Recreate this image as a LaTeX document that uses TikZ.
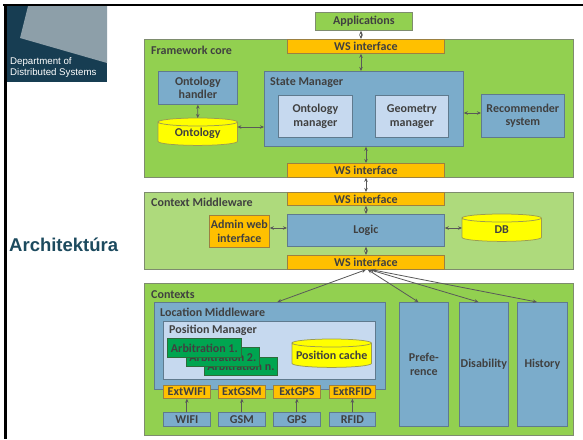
\documentclass[tikz,border=0pt]{standalone}
\usepackage{fontspec}
\setmainfont{Carlito}
\newfontfamily\arialfont{Liberation Sans}
\usetikzlibrary{arrows.meta,calc}
\definecolor{grn}{HTML}{92D050}
\definecolor{lgrn}{HTML}{AEDA7C}
\definecolor{blu}{HTML}{7BACCB}
\definecolor{lblu}{HTML}{C6D9EF}
\definecolor{org}{HTML}{FFC000}
\definecolor{ylw}{HTML}{FFFF00}
\definecolor{agrn}{HTML}{00A550}
\definecolor{txt}{HTML}{404040}
\definecolor{arr}{HTML}{595959}
\definecolor{navy}{HTML}{173D52}
\definecolor{slate}{HTML}{8D9FA9}
\definecolor{archc}{HTML}{1C4A5E}
\definecolor{gbord}{HTML}{7E8C6E}
\definecolor{bbord}{HTML}{5F7A8E}
\definecolor{obord}{HTML}{9C8040}
\definecolor{ybord}{HTML}{9C9C50}
\definecolor{abord}{HTML}{2E6B3A}
\newcommand\drawcyl[1]{%
  \path[draw=ybord, fill=ylw, line width=0.75pt]
    let \p1=(#1.north west), \p2=(#1.south east), \n1={(\x2-\x1)/2} in
    (\x1,\y1-4pt) -- (\x1,\y2+4pt)
      arc[start angle=180, end angle=360, x radius=\n1, y radius=4pt]
      -- (\x2,\y1-4pt)
      arc[start angle=0, end angle=180, x radius=\n1, y radius=4pt] -- cycle
    (\x1+\n1,\y1-4pt) ellipse[x radius=\n1, y radius=4pt];}
\tikzset{
  bx/.style={draw, anchor=north west, inner sep=0pt, align=center, text=txt,
    font=\bfseries\fontsize{12}{13.7}\selectfont, line width=0.75pt},
  gbox/.style={bx, fill=grn, draw=gbord},
  lgbox/.style={bx, fill=lgrn, draw=gbord},
  bbox/.style={bx, fill=blu, draw=bbord},
  lbbox/.style={bx, fill=lblu, draw=bbord},
  obox/.style={bx, fill=org, draw=obord},
  abox/.style={bx, fill=agrn, draw=abord},
  cylnode/.style={anchor=north west, inner sep=0pt},
  ctext/.style={text=txt, font=\bfseries\fontsize{12}{13.7}\selectfont, inner sep=0pt},
  lbl/.style={text=txt, font=\bfseries\fontsize{12}{13.7}\selectfont, inner sep=0pt, anchor=base west},
  dbl/.style={{Stealth[length=4pt,width=3.5pt]}-{Stealth[length=4pt,width=3.5pt]}, draw=arr, line width=0.8pt},
  sgl/.style={-{Stealth[length=4pt,width=3.5pt]}, draw=arr, line width=0.8pt},
}
\begin{document}
\begin{tikzpicture}[x=1pt,y=-1pt]
\useasboundingbox (0,0) rectangle (583,439);
\fill[white] (0,0) rectangle (583,439);
% logo
\fill[navy] (5,5) rectangle (107,82);
\fill[slate] (28,6) -- (107,6) -- (107,63) -- (20,38) -- cycle;
\node[anchor=west, inner sep=0pt, text=white, align=left,
  font=\arialfont\fontsize{9.7}{11}\selectfont] (dept) at (10,67.5)
  {Department of\\Distributed Systems};
\draw[black, line width=2pt] (3,5) -- (583,5);
\draw[black, line width=2.5pt] (5.3,5) -- (5.3,439);
\node[anchor=base west, inner sep=0pt, text=archc,
  font=\arialfont\bfseries\fontsize{18.5}{20}\selectfont] (arch) at (9,251.3) {Architektúra};
% coordinates for arrow columns
\coordinate (ax1) at (361,0);
\coordinate (ax2) at (366,0);
% Applications
\node[gbox, minimum width=97pt, minimum height=18pt] (app) at (315,12) {Applications};
% Framework core
\node[gbox, minimum width=429pt, minimum height=138pt] (fc) at (144,39) {};
\node[lbl] (fclbl) at (151,54) {Framework core};
\node[obox, minimum width=157pt, minimum height=14pt] (wst) at (287,39) {WS interface};
\node[bbox, minimum width=79pt, minimum height=33pt] (oh) at (158,71) {Ontology\\handler};
\node[cylnode, minimum width=79pt, minimum height=27pt] (ont) at (158,118) {};
\drawcyl{ont}
\node[ctext] (ontl) at ($(ont.center)+(0,2)$) {Ontology};
\node[bbox, minimum width=199pt, minimum height=75pt] (sm) at (264,71) {};
\node[lbl] (smlbl) at (270,85.5) {State Manager};
\node[lbbox, minimum width=74pt, minimum height=42pt] (om) at (278,95) {Ontology\\manager};
\node[lbbox, minimum width=73pt, minimum height=42pt] (gm) at (375,95) {Geometry\\manager};
\node[bbox, minimum width=83pt, minimum height=43pt] (rs) at (481,94) {Recommender\\system};
\node[obox, minimum width=157pt, minimum height=14pt] (wsb1) at (287,163) {WS interface};
% Context Middleware
\node[lgbox, minimum width=429pt, minimum height=77pt] (cm) at (144,192) {};
\node[lbl] (cmlbl) at (151,206) {Context Middleware};
\node[obox, minimum width=157pt, minimum height=13pt] (wst2) at (287,192) {WS interface};
\node[bbox, minimum width=157pt, minimum height=32pt] (logic) at (287,214) {Logic};
\node[obox, minimum width=60pt, minimum height=32pt] (admin) at (209,215) {Admin web\\interface};
\node[cylnode, minimum width=79pt, minimum height=27pt] (db) at (462,214) {};
\drawcyl{db}
\node[ctext] (dbl) at ($(db.center)+(0,1.5)$) {DB};
\node[obox, minimum width=157pt, minimum height=14pt] (wsb2) at (287,255) {WS interface};
% Contexts
\node[gbox, minimum width=429pt, minimum height=152pt] (ctx) at (144,283) {};
\node[lbl] (ctxlbl) at (151,298) {Contexts};
\node[bbox, minimum width=231pt, minimum height=87pt] (lm) at (154,302) {};
\node[lbl] (lmlbl) at (160,316) {Location Middleware};
\node[lbbox, minimum width=212pt, minimum height=58pt] (pm) at (163,321) {};
\node[lbl] (pmlbl) at (169,333.5) {Position Manager};
\node[abox, minimum width=73pt, minimum height=18pt] (arbn) at (204,357) {Arbitration n.};
\node[abox, minimum width=73pt, minimum height=19pt] (arb2) at (186,347) {Arbitration 2.};
\node[abox, minimum width=74pt, minimum height=19pt] (arb1) at (167,338) {Arbitration 1.};
\node[cylnode, minimum width=79pt, minimum height=28pt] (pc) at (292,339) {};
\drawcyl{pc}
\node[ctext] (pcl) at ($(pc.center)+(0,2)$) {Position cache};
\node[obox, minimum width=47pt, minimum height=13pt] (exwifi) at (163,385) {ExtWIFI};
\node[obox, minimum width=47pt, minimum height=13pt] (exgsm) at (218,385) {ExtGSM};
\node[obox, minimum width=47pt, minimum height=13pt] (exgps) at (273,385) {ExtGPS};
\node[obox, minimum width=46pt, minimum height=13pt] (exrfid) at (329,385) {ExtRFID};
\node[bbox, minimum width=47pt, minimum height=14pt] (wifi) at (163,412) {WIFI};
\node[bbox, minimum width=47pt, minimum height=14pt] (gsm) at (218,412) {GSM};
\node[bbox, minimum width=47pt, minimum height=14pt] (gps) at (273,412) {GPS};
\node[bbox, minimum width=46pt, minimum height=14pt] (rfid) at (329,412) {RFID};
\node[bbox, minimum width=49pt, minimum height=124pt] (pref) at (399,302) {Prefe-\\rence};
\node[bbox, minimum width=49pt, minimum height=124pt] (dis) at (459,302) {Disability};
\node[bbox, minimum width=50pt, minimum height=124pt] (hist) at (517,302) {History};
% connectors
\coordinate (yont) at (0,127);
\coordinate (yrs) at (0,113);
\coordinate (yadm) at (0,228);
\draw[dbl] (app.south -| ax1) -- (wst.north -| ax1);
\draw[dbl] (wst.south -| ax1) -- (sm.north -| ax1);
\draw[dbl] (sm.south -| ax2) -- (wsb1.north -| ax2);
\draw[dbl] (wsb1.south -| ax2) -- (wst2.north -| ax2);
\draw[dbl] (wst2.south -| ax2) -- (logic.north -| ax2);
\draw[dbl] (logic.south -| ax2) -- (wsb2.north -| ax2);
\draw[dbl] (oh.south) -- (ont.north);
\draw[dbl] (ont.east |- yont) -- (sm.west |- yont);
\draw[dbl] (sm.east |- yrs) -- (rs.west |- yrs);
\draw[dbl] (admin.east |- yadm) -- (logic.west |- yadm);
\draw[dbl] (logic.east |- yadm) -- (db.west |- yadm);
\draw[dbl] ($(wsb2.south)+(0,0)$) -- ($(lm.north)+(7.5,0)$);
\draw[dbl] ($(wsb2.south)+(2,0)$) -- ($(pref.north)+(-5.5,0)$);
\draw[dbl] ($(wsb2.south)+(4,0)$) -- ($(dis.north)+(-5.5,0)$);
\draw[dbl] ($(wsb2.south)+(6,0)$) -- ($(hist.north)+(-5.5,0)$);
\draw[sgl] (wifi.north) -- (exwifi.south);
\draw[sgl] (gsm.north) -- (exgsm.south);
\draw[sgl] (gps.north) -- (exgps.south);
\draw[sgl] (rfid.north) -- (exrfid.south);
\end{tikzpicture}
\end{document}
